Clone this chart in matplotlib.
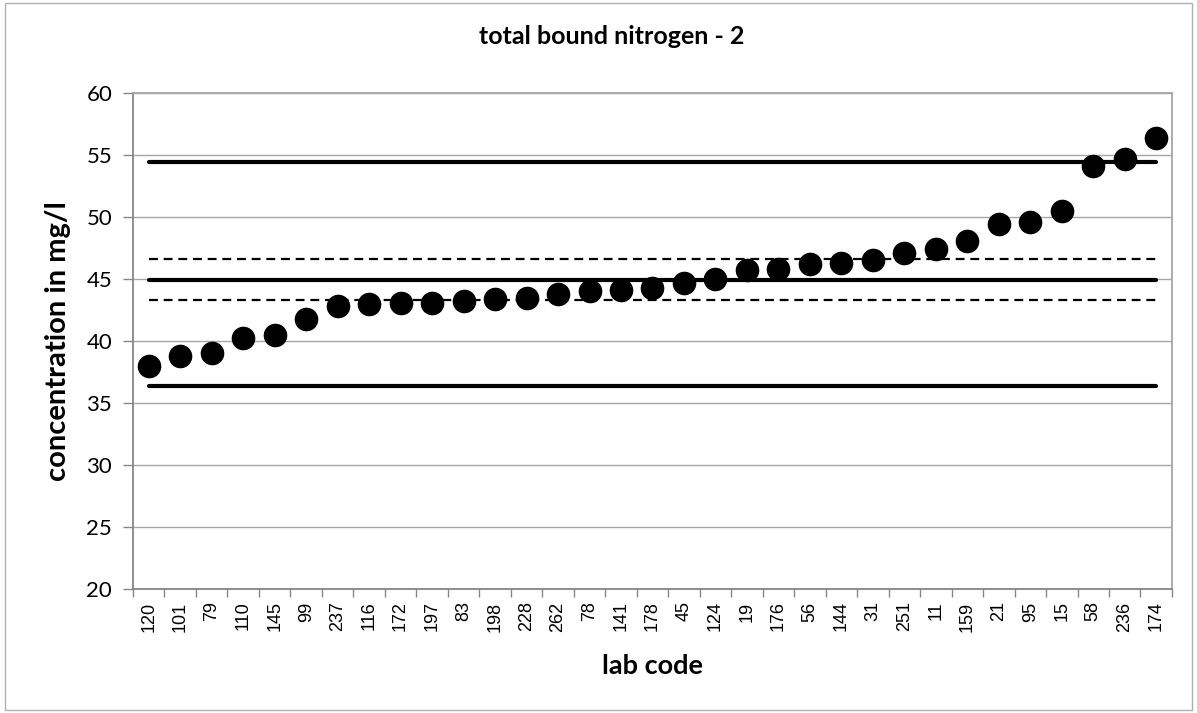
import numpy as np
from matplotlib import pyplot as plt
from matplotlib.ticker import FixedLocator

lab_codes = ['120', '101', '79', '110', '145', '99', '237', '116', '172', '197',
             '83', '198', '228', '262', '78', '141', '178', '45', '124', '19',
             '176', '56', '144', '31', '251', '11', '159', '21', '95', '15',
             '58', '236', '174']
concentration = [38.0, 38.8, 39.0, 40.2, 40.5, 41.8, 42.8, 43.0, 43.1, 43.1,
                 43.2, 43.4, 43.5, 43.8, 44.0, 44.1, 44.3, 44.7, 45.0, 45.7,
                 45.8, 46.2, 46.3, 46.5, 47.1, 47.4, 48.1, 49.4, 49.6, 50.5,
                 54.1, 54.7, 56.4]

assigned_value = 44.95
tolerance_upper = 54.45
tolerance_lower = 36.4
uncert_upper = 46.6
uncert_lower = 43.3

gris = '#a6a6a6'
fuente = 'Lato'

fig = plt.figure(figsize=(11.97, 7.13), dpi=100)
fig.patches.append(plt.Rectangle((0.004, 0.004), 0.992, 0.992, transform=fig.transFigure,
                                 fill=False, edgecolor='#b0b0b0', linewidth=1))
ax = fig.add_axes([0.1111, 0.174, 0.8680, 0.6956])

x = np.arange(len(lab_codes))
x0, x1 = x[0], x[-1]

ax.plot([x0, x1], [tolerance_upper]*2, color='k', linewidth=3, solid_capstyle='round', zorder=3)
ax.plot([x0, x1], [assigned_value]*2, color='k', linewidth=3, solid_capstyle='round', zorder=3)
ax.plot([x0, x1], [tolerance_lower]*2, color='k', linewidth=3, solid_capstyle='round', zorder=3)
ax.plot([x0, x1], [uncert_upper]*2, color='k', linewidth=1.6, linestyle=(0, (4, 2.6)), zorder=3)
ax.plot([x0, x1], [uncert_lower]*2, color='k', linewidth=1.6, linestyle=(0, (4, 2.6)), zorder=3)
ax.plot(x, concentration, 'o', color='k', markersize=16, zorder=4)

ax.set_xlim(-0.5, len(lab_codes) - 0.5)
ax.set_ylim(20, 60)
ax.set_yticks(np.arange(20, 61, 5))
ax.yaxis.grid(True, color=gris, linewidth=1)
ax.set_axisbelow(True)

ax.set_xticks(x)
ax.set_xticklabels(lab_codes, rotation=90, fontsize=13, family='Liberation Sans')
ax.xaxis.set_minor_locator(FixedLocator(np.arange(-0.5, len(lab_codes), 1)))
ax.tick_params(axis='x', which='major', length=0, pad=9)
ax.tick_params(axis='x', which='minor', length=6, color='#868686', width=1)
ax.tick_params(axis='y', length=7, color='#868686', width=1, pad=8)
for lbl in ax.get_yticklabels():
    lbl.set_fontsize(16)
    lbl.set_family(fuente)

for s in ax.spines.values():
    s.set_color('#868686')
    s.set_linewidth(1.3)
ax.spines['top'].set_color(gris)
ax.spines['right'].set_color(gris)

fig.text(0.511, 1 - 37/713, 'total bound nitrogen - 2', fontsize=18, fontweight='bold',
         family=fuente, ha='center', va='center')
ax.set_xlabel('lab code', fontsize=19.5, fontweight='bold', family=fuente, labelpad=16)
ax.set_ylabel('concentration in mg/l', fontsize=21, fontweight='bold', family=fuente, labelpad=11)

fig.savefig('out.png', dpi=100)
